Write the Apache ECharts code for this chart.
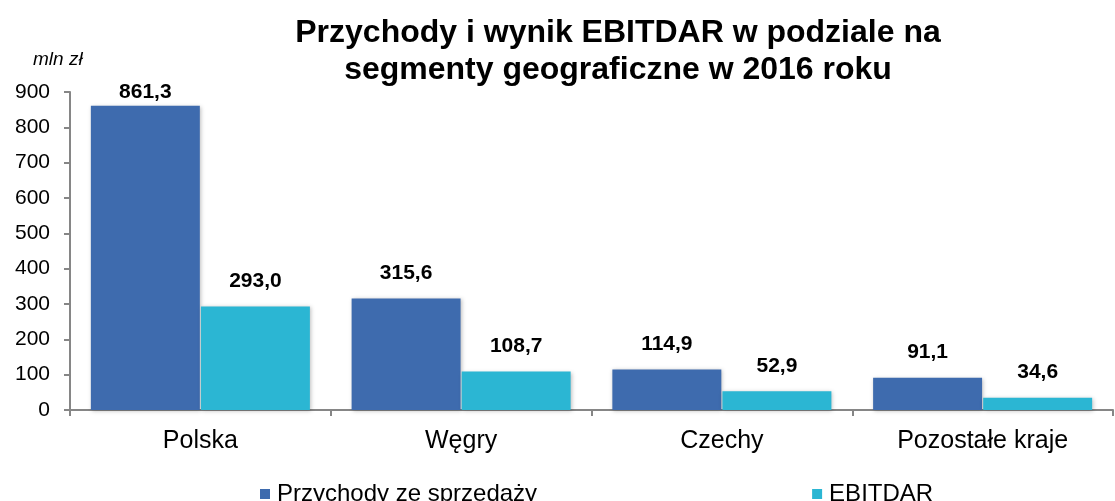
<!DOCTYPE html>
<html>
<head>
<meta charset="utf-8">
<script src="https://cdn.jsdelivr.net/npm/echarts@6/dist/echarts.min.js"></script>
<style>
  html, body { margin: 0; padding: 0; background: #fff; }
  #chart { width: 1115px; height: 501px; }
</style>
</head>
<body>
<div id="chart"></div>
<script>
// data
var categories = ['Polska', 'Węgry', 'Czechy', 'Pozostałe kraje'];
var przychody = [861.3, 315.6, 114.9, 91.1];
var ebitdar = [293.0, 108.7, 52.9, 34.6];
var yTicks = [0, 100, 200, 300, 400, 500, 600, 700, 800, 900];

var fontFam = '"Liberation Sans", Arial, sans-serif';
var fmt = function (v) { return v.toFixed(1).replace('.', ','); };

var myChart = echarts.init(document.getElementById('chart'));

var labelStyle = {
  show: true,
  position: 'top',
  distance: 15,
  fontFamily: fontFam,
  fontWeight: 'bold',
  fontSize: 21,
  color: '#000',
  formatter: function (p) { return fmt(p.value); }
};

option = {
  animation: false,
  textStyle: { fontFamily: fontFam },
  title: {
    text: 'Przychody i wynik EBITDAR w podziale na\nsegmenty geograficzne w 2016 roku',
    left: 613,
    top: 10,
    textAlign: 'center',
    textStyle: {
      fontFamily: fontFam,
      fontWeight: 'bold',
      fontSize: 32,
      lineHeight: 37,
      color: '#000'
    }
  },
  graphic: [{
    type: 'text',
    left: 33,
    top: 50,
    style: {
      text: 'mln zł',
      font: 'italic 19px "Liberation Sans", Arial, sans-serif',
      fill: '#000'
    }
  }],
  legend: {
    top: 477,
    left: 255,
    padding: 5,
    itemGap: 275,
    itemWidth: 10,
    itemHeight: 10,
    icon: 'rect',
    textStyle: { fontFamily: fontFam, fontSize: 24, lineHeight: 24, color: '#000', padding: [0, 0, 0, 2] },
    data: ['Przychody ze sprzedaży', 'EBITDAR']
  },
  grid: { left: 70, right: 2, top: 92, bottom: 91 },
  xAxis: {
    type: 'category',
    data: categories,
    axisLine: { lineStyle: { color: '#868686', width: 2 } },
    axisTick: { show: true, length: 6, lineStyle: { color: '#868686', width: 2 } },
    axisLabel: { fontFamily: fontFam, fontSize: 25, color: '#000', margin: 19 }
  },
  yAxis: {
    type: 'value',
    min: yTicks[0],
    max: yTicks[yTicks.length - 1],
    interval: 100,
    splitLine: { show: false },
    axisLine: { show: true, lineStyle: { color: '#868686', width: 2 } },
    axisTick: { show: true, length: 6, lineStyle: { color: '#868686', width: 2 } },
    axisLabel: { fontFamily: fontFam, fontSize: 21, color: '#000', margin: 20 }
  },
  series: [{
    name: 'Przychody ze sprzedaży',
    type: 'bar',
    barGap: '1%',
    barCategoryGap: '16%',
    itemStyle: {
      color: '#3E6BAE',
      shadowColor: 'rgba(0,0,0,0.25)',
      shadowBlur: 4,
      shadowOffsetX: 1,
      shadowOffsetY: 1
    },
    label: labelStyle,
    data: przychody.map(function (v, i) {
      return i === 0 ? { value: v, label: { distance: 3 } } : v;
    })
  }, {
    name: 'EBITDAR',
    type: 'bar',
    itemStyle: {
      color: '#2BB6D3',
      shadowColor: 'rgba(0,0,0,0.25)',
      shadowBlur: 4,
      shadowOffsetX: 1,
      shadowOffsetY: 1
    },
    label: labelStyle,
    data: ebitdar
  }]
};

myChart.setOption(option);
</script>
</body>
</html>
